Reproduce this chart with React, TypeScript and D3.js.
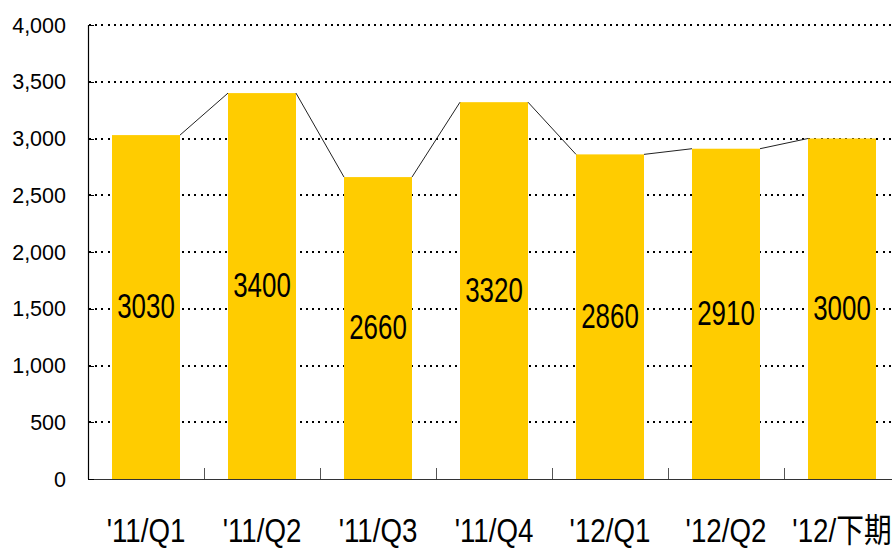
import React from "react";
import * as d3 from "d3";

const categories = ["'11/Q1", "'11/Q2", "'11/Q3", "'11/Q4", "'12/Q1", "'12/Q2", "'12/下期"];
const values = [3030, 3400, 2660, 3320, 2860, 2910, 3000];
const yTicks = [0, 500, 1000, 1500, 2000, 2500, 3000, 3500, 4000];

const W = 892;
const H = 549;
const FONT = "'Liberation Sans', Arial, 'Noto Sans CJK JP', sans-serif";

export default function App() {
  const left = 88;
  const bottom = 479;
  const top = 25;
  const band = 116;
  const right = left + band * categories.length;

  const x = d3
    .scaleBand<string>()
    .domain(categories)
    .range([left, right])
    .paddingInner(0.4138)
    .paddingOuter(0.2069);
  const y = d3.scaleLinear().domain([0, 4000]).range([bottom, top]);
  const fmt = d3.format(",");

  const bw = x.bandwidth();
  const connectors = values.slice(0, -1).map((v, i) => ({
    x1: (x(categories[i]) as number) + bw,
    y1: y(v),
    x2: x(categories[i + 1]) as number,
    y2: y(values[i + 1]),
  }));

  return (
    <svg
      width={W}
      height={H}
      style={{ position: "absolute", left: 0, top: 0, background: "#fff" }}
      fontFamily={FONT}
    >
      {/* gridlines */}
      {yTicks
        .filter((t) => t > 0)
        .map((t) => (
          <line
            key={"g" + t}
            x1={left + 1}
            x2={right}
            y1={Math.round(y(t))}
            y2={Math.round(y(t))}
            stroke="#000"
            strokeWidth={2}
            strokeDasharray="2,4.2"
            shapeRendering="crispEdges"
          />
        ))}
      {/* bars */}
      {values.map((v, i) => (
        <rect
          key={"b" + i}
          x={x(categories[i])}
          y={y(v)}
          width={bw}
          height={bottom - y(v)}
          fill="#FFCC00"
        />
      ))}
      {/* connectors */}
      {connectors.map((c, i) => (
        <line key={"c" + i} {...c} stroke="#222" strokeWidth={1} />
      ))}
      {/* axes */}
      <line x1={left + 0.5} x2={left + 0.5} y1={top} y2={bottom} stroke="#000" strokeWidth={1.2} />
      <line x1={left} x2={right} y1={bottom + 0.5} y2={bottom + 0.5} stroke="#333" strokeWidth={1.2} />
      {yTicks.map((t) => (
        <line
          key={"yt" + t}
          x1={left}
          x2={left + 6}
          y1={Math.round(y(t)) + 0.5}
          y2={Math.round(y(t)) + 0.5}
          stroke="#000"
          strokeWidth={1}
        />
      ))}
      {categories.slice(1).map((c) => (
        <line
          key={"xt" + c}
          x1={(x(c) as number) - (band - bw) / 2 + 0.5}
          x2={(x(c) as number) - (band - bw) / 2 + 0.5}
          y1={bottom - 11}
          y2={bottom}
          stroke="#555"
          strokeWidth={1}
        />
      ))}
      {/* y labels */}
      {yTicks.map((t) => (
        <text
          key={"yl" + t}
          x={66}
          y={y(t)}
          dy="0.36em"
          textAnchor="end"
          fontSize={21.5}
          fill="#000"
        >
          {fmt(t)}
        </text>
      ))}
      {/* x labels */}
      {categories.map((c) => (
        <text
          key={"xl" + c}
          transform={`translate(${(x(c) as number) + bw / 2},542) scale(0.84,1)`}
          textAnchor="middle"
          fontSize={33}
          fill="#000"
        >
          {c}
        </text>
      ))}
      {/* value labels */}
      {values.map((v, i) => (
        <text
          key={"vl" + i}
          transform={`translate(${(x(categories[i]) as number) + bw / 2},${y(v / 2) - 1.5}) scale(0.74,1)`}
          dy="0.36em"
          textAnchor="middle"
          fontSize={35}
          fill="#000"
        >
          {v}
        </text>
      ))}
    </svg>
  );
}
